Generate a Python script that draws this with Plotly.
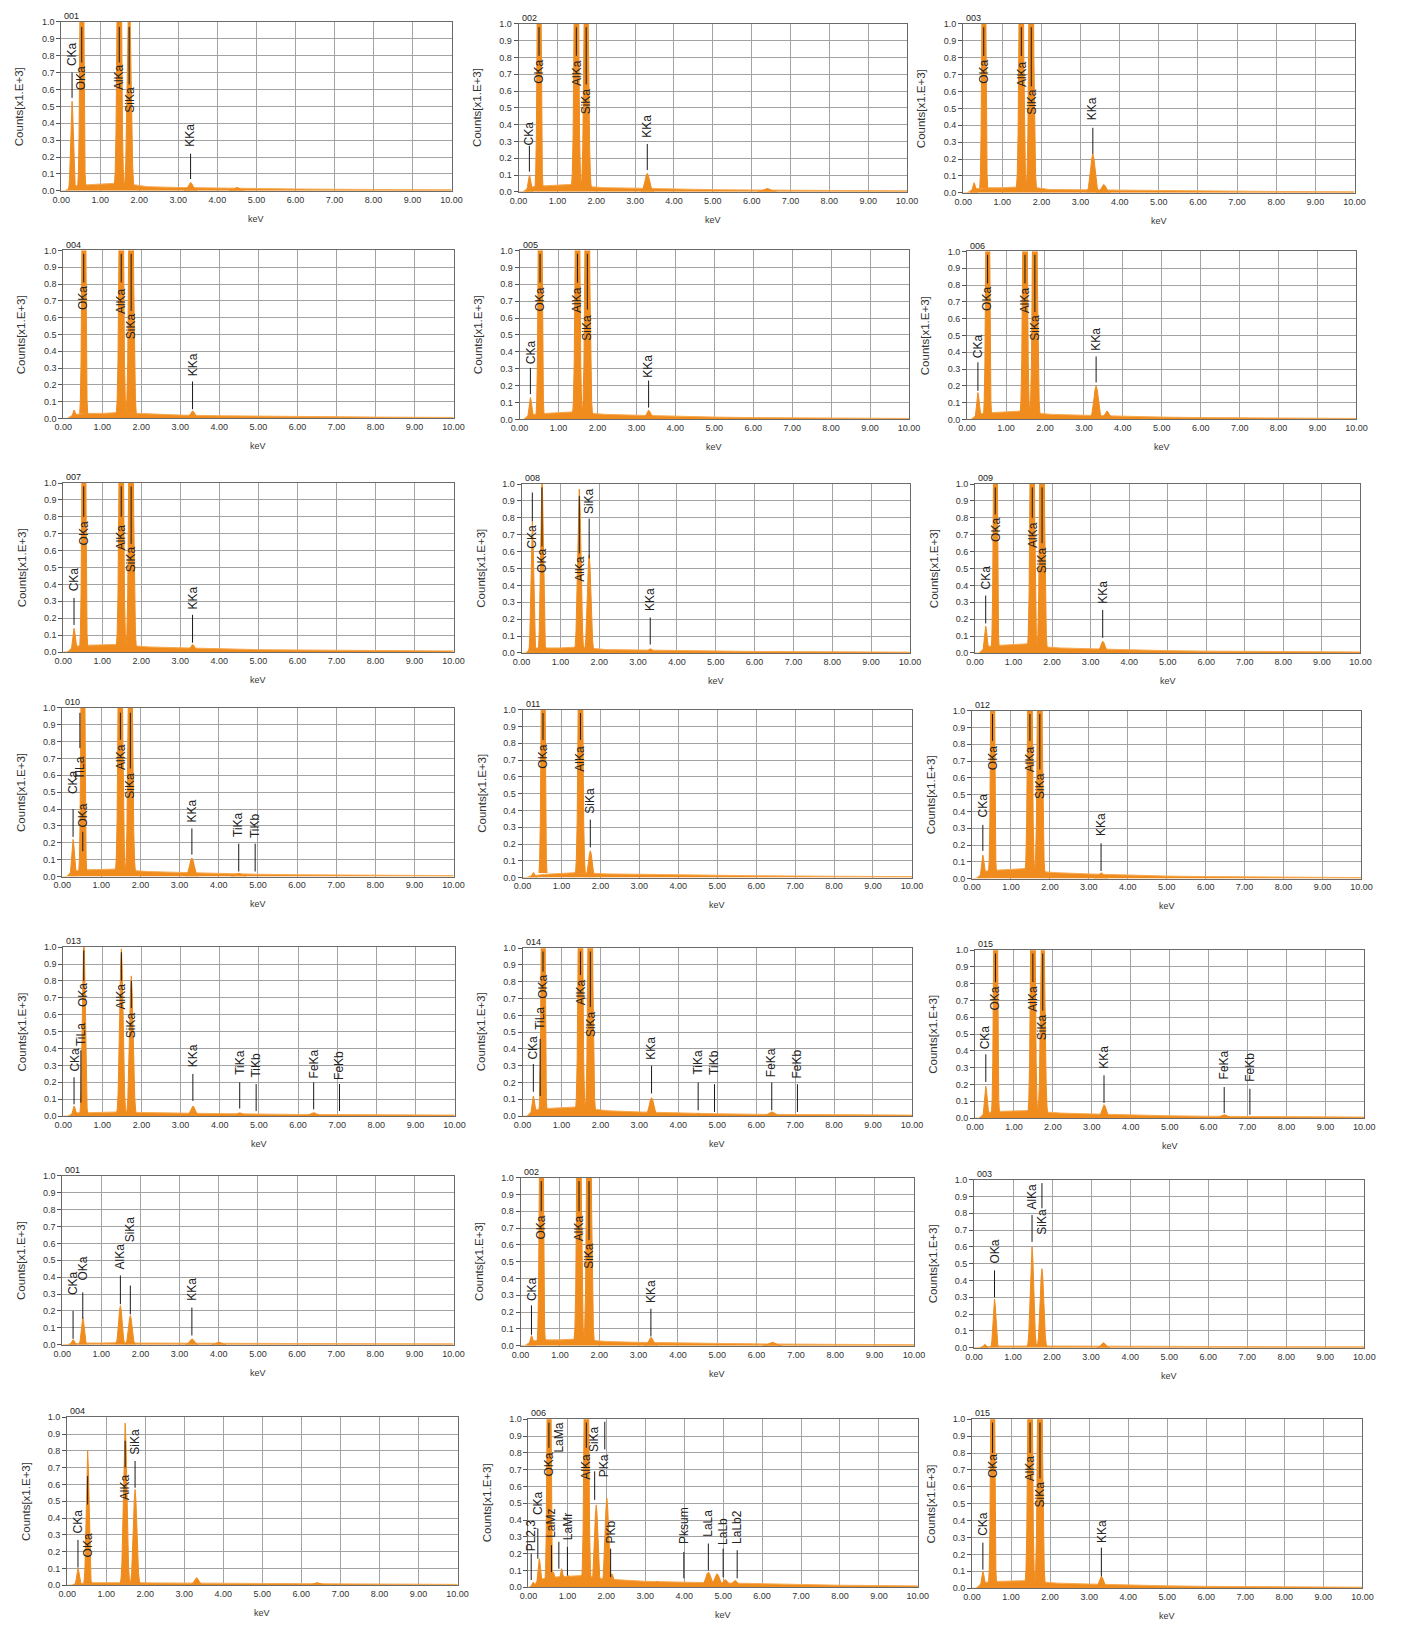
import plotly.graph_objects as go

W, H = 1401, 1628

PANEL_NAMES = ["001", "002", "003", "004", "005", "006", "007", "008", "009", "010",
               "011", "012", "013", "014", "015", "001", "002", "003", "004", "006", "015"]

# shared energy points of the continuum (keV)
BG_KEV = [0.0, 0.1, 0.2, 0.35, 0.6, 1.0, 1.4, 1.9, 2.2, 3.0, 4.0, 5.0, 6.0, 8.0, 10.0]
BACKGROUND = [
    [0, 0, 0.015, 0.03, 0.035, 0.04, 0.045, 0.035, 0.025, 0.02, 0.016, 0.013, 0.011, 0.008, 0.006],
    [0, 0, 0.015, 0.03, 0.035, 0.04, 0.045, 0.03, 0.025, 0.022, 0.016, 0.013, 0.011, 0.008, 0.006],
    [0, 0, 0.015, 0.025, 0.03, 0.03, 0.035, 0.03, 0.02, 0.018, 0.015, 0.012, 0.01, 0.008, 0.006],
    [0, 0, 0.015, 0.025, 0.03, 0.03, 0.035, 0.03, 0.025, 0.02, 0.016, 0.013, 0.011, 0.008, 0.006],
    [0, 0, 0.02, 0.03, 0.035, 0.04, 0.045, 0.035, 0.03, 0.025, 0.018, 0.014, 0.011, 0.008, 0.006],
    [0, 0, 0.02, 0.035, 0.04, 0.045, 0.05, 0.035, 0.03, 0.025, 0.018, 0.014, 0.011, 0.008, 0.006],
    [0, 0, 0.02, 0.035, 0.04, 0.042, 0.045, 0.035, 0.03, 0.025, 0.018, 0.014, 0.012, 0.009, 0.006],
    [0, 0, 0.02, 0.03, 0.03, 0.03, 0.035, 0.025, 0.02, 0.018, 0.014, 0.011, 0.009, 0.007, 0.005],
    [0, 0, 0.02, 0.04, 0.045, 0.05, 0.055, 0.035, 0.03, 0.025, 0.018, 0.014, 0.011, 0.008, 0.006],
    [0, 0, 0.02, 0.035, 0.04, 0.042, 0.045, 0.035, 0.03, 0.025, 0.018, 0.014, 0.011, 0.008, 0.006],
    [0, 0, 0.01, 0.015, 0.02, 0.025, 0.03, 0.025, 0.022, 0.02, 0.016, 0.013, 0.011, 0.008, 0.006],
    [0, 0, 0.02, 0.045, 0.05, 0.055, 0.06, 0.04, 0.035, 0.028, 0.02, 0.015, 0.012, 0.009, 0.006],
    [0, 0, 0.01, 0.02, 0.02, 0.022, 0.025, 0.022, 0.02, 0.018, 0.015, 0.012, 0.01, 0.008, 0.006],
    [0, 0, 0.02, 0.04, 0.045, 0.05, 0.055, 0.04, 0.032, 0.025, 0.018, 0.014, 0.011, 0.008, 0.006],
    [0, 0, 0.02, 0.035, 0.04, 0.042, 0.045, 0.035, 0.03, 0.025, 0.018, 0.014, 0.011, 0.008, 0.006],
    [0, 0, 0.005, 0.008, 0.01, 0.01, 0.012, 0.01, 0.01, 0.01, 0.009, 0.008, 0.007, 0.006, 0.005],
    [0, 0, 0.015, 0.03, 0.035, 0.035, 0.04, 0.03, 0.025, 0.02, 0.016, 0.013, 0.011, 0.008, 0.006],
    [0, 0, 0.005, 0.008, 0.01, 0.01, 0.012, 0.01, 0.01, 0.01, 0.009, 0.008, 0.007, 0.006, 0.005],
    [0, 0, 0.008, 0.012, 0.015, 0.015, 0.017, 0.015, 0.014, 0.013, 0.011, 0.01, 0.008, 0.007, 0.005],
    [0, 0, 0.03, 0.05, 0.06, 0.065, 0.07, 0.05, 0.045, 0.035, 0.03, 0.025, 0.018, 0.012, 0.008],
    [0, 0, 0.02, 0.035, 0.04, 0.042, 0.045, 0.035, 0.03, 0.025, 0.018, 0.014, 0.011, 0.008, 0.006],
]

# peaks: (energy keV, counts x1e3); values above 1.0 are off-scale (saturated)
PEAKS = [
    [(0.277, 0.53), (0.525, 2.5), (1.486, 2.5), (1.74, 1.2), (3.313, 0.05), (4.5, 0.02)],
    [(0.277, 0.10), (0.525, 2.5), (1.486, 2.5), (1.74, 2.0), (3.313, 0.11), (6.4, 0.02)],
    [(0.277, 0.06), (0.525, 2.5), (1.486, 2.5), (1.74, 2.5), (3.313, 0.23), (3.59, 0.05)],
    [(0.277, 0.05), (0.525, 2.5), (1.486, 2.5), (1.74, 2.5), (3.313, 0.045)],
    [(0.277, 0.13), (0.525, 2.5), (1.486, 2.5), (1.74, 2.5), (3.313, 0.055)],
    [(0.277, 0.16), (0.525, 2.5), (1.486, 2.5), (1.74, 2.5), (3.313, 0.20), (3.59, 0.05)],
    [(0.277, 0.14), (0.525, 2.5), (1.486, 2.5), (1.74, 2.5), (3.313, 0.045)],
    [(0.277, 0.78), (0.525, 1.05), (1.486, 0.97), (1.74, 0.58), (3.313, 0.025)],
    [(0.277, 0.16), (0.525, 2.5), (1.486, 2.5), (1.74, 2.5), (3.313, 0.07)],
    [(0.277, 0.22), (0.525, 2.5), (1.486, 2.5), (1.74, 2.0), (3.313, 0.11), (4.51, 0.02)],
    [(0.277, 0.03), (0.525, 2.5), (1.486, 2.5), (1.74, 0.16)],
    [(0.277, 0.14), (0.525, 2.5), (1.486, 2.5), (1.74, 2.5), (3.313, 0.035)],
    [(0.277, 0.06), (0.525, 1.1), (1.486, 0.99), (1.74, 0.83), (3.313, 0.06), (4.51, 0.02), (6.4, 0.02)],
    [(0.277, 0.12), (0.525, 2.5), (1.486, 2.5), (1.74, 2.5), (3.313, 0.11), (4.51, 0.015), (6.4, 0.025)],
    [(0.277, 0.19), (0.525, 2.5), (1.486, 2.5), (1.74, 1.5), (3.313, 0.08), (6.4, 0.02)],
    [(0.277, 0.03), (0.525, 0.163), (1.486, 0.232), (1.74, 0.173), (3.313, 0.035), (4.0, 0.015)],
    [(0.277, 0.06), (0.525, 2.5), (1.486, 2.5), (1.74, 2.5), (3.313, 0.05), (6.4, 0.02)],
    [(0.277, 0.02), (0.525, 0.29), (1.486, 0.60), (1.74, 0.47), (3.313, 0.03)],
    [(0.277, 0.10), (0.525, 0.80), (1.486, 0.965), (1.74, 0.57), (3.313, 0.045), (6.4, 0.015)],
    [(0.12, 0.03), (0.277, 0.17), (0.525, 2.5), (0.64, 0.09), (0.85, 0.11), (1.02, 0.07),
     (1.486, 2.5), (1.74, 0.49), (2.013, 0.53), (2.14, 0.08), (3.3, 0.035), (4.62, 0.09),
     (4.84, 0.08), (5.05, 0.045), (5.3, 0.04)],
    [(0.277, 0.10), (0.525, 2.5), (1.486, 2.5), (1.74, 2.5), (3.313, 0.07)],
]

# peak labels: (text, energy keV, marker low, marker high, text centre)
LABELS = [
    [("CKa", 0.277, 0.55, 0.70, 0.81), ("OKa", 0.525, 0.76, 0.97, 0.665), ("AlKa", 1.486, 0.76, 0.97, 0.675),
     ("SiKa", 1.74, 0.63, 0.97, 0.54), ("KKa", 3.313, 0.07, 0.22, 0.33)],
    [("CKa", 0.277, 0.12, 0.275, 0.35), ("OKa", 0.525, 0.81, 0.98, 0.715), ("AlKa", 1.486, 0.81, 0.98, 0.71),
     ("SiKa", 1.74, 0.64, 0.98, 0.54), ("KKa", 3.313, 0.13, 0.285, 0.39)],
    [("OKa", 0.525, 0.81, 0.98, 0.715), ("AlKa", 1.486, 0.81, 0.98, 0.705),
     ("SiKa", 1.74, 0.63, 0.98, 0.54), ("KKa", 3.313, 0.23, 0.385, 0.50)],
    [("OKa", 0.525, 0.81, 0.98, 0.715), ("AlKa", 1.486, 0.81, 0.98, 0.70),
     ("SiKa", 1.74, 0.64, 0.98, 0.55), ("KKa", 3.313, 0.055, 0.22, 0.32)],
    [("CKa", 0.277, 0.15, 0.305, 0.40), ("OKa", 0.525, 0.81, 0.98, 0.71), ("AlKa", 1.486, 0.81, 0.98, 0.71),
     ("SiKa", 1.74, 0.65, 0.98, 0.545), ("KKa", 3.313, 0.07, 0.23, 0.315)],
    [("CKa", 0.277, 0.17, 0.34, 0.435), ("OKa", 0.525, 0.81, 0.98, 0.715), ("AlKa", 1.486, 0.81, 0.98, 0.71),
     ("SiKa", 1.74, 0.64, 0.98, 0.545), ("KKa", 3.313, 0.22, 0.375, 0.475)],
    [("CKa", 0.277, 0.16, 0.32, 0.43), ("OKa", 0.525, 0.80, 0.98, 0.70), ("AlKa", 1.486, 0.80, 0.98, 0.68),
     ("SiKa", 1.74, 0.64, 0.98, 0.55), ("KKa", 3.313, 0.055, 0.22, 0.32)],
    [("CKa", 0.277, 0.78, 0.95, 0.69), ("OKa", 0.525, 0.63, 0.98, 0.545), ("AlKa", 1.486, 0.59, 0.93, 0.50),
     ("SiKa", 1.74, 0.56, 0.795, 0.90), ("KKa", 3.313, 0.05, 0.21, 0.315)],
    [("CKa", 0.277, 0.175, 0.34, 0.445), ("OKa", 0.525, 0.82, 0.98, 0.73), ("AlKa", 1.486, 0.80, 0.98, 0.70),
     ("SiKa", 1.74, 0.65, 0.98, 0.55), ("KKa", 3.313, 0.09, 0.255, 0.36)],
    [("CKa", 0.277, 0.235, 0.40, 0.56), ("TiLa", 0.452, 0.76, 0.97, 0.645), ("OKa", 0.525, 0.15, 0.265, 0.36),
     ("AlKa", 1.486, 0.81, 0.97, 0.71), ("SiKa", 1.74, 0.64, 0.97, 0.54), ("KKa", 3.313, 0.13, 0.285, 0.39),
     ("TiKa", 4.51, 0.03, 0.195, 0.31), ("TiKb", 4.93, 0.03, 0.195, 0.30)],
    [("OKa", 0.525, 0.82, 0.98, 0.72), ("AlKa", 1.486, 0.82, 0.98, 0.71), ("SiKa", 1.74, 0.18, 0.345, 0.46)],
    [("CKa", 0.277, 0.165, 0.32, 0.435), ("OKa", 0.525, 0.82, 0.98, 0.72), ("AlKa", 1.486, 0.82, 0.98, 0.71),
     ("SiKa", 1.74, 0.65, 0.98, 0.55), ("KKa", 3.313, 0.045, 0.21, 0.32)],
    [("CKa", 0.277, 0.07, 0.23, 0.335), ("TiLa", 0.452, 0.08, 0.39, 0.485), ("OKa", 0.525, 0.80, 0.98, 0.715),
     ("AlKa", 1.486, 0.80, 0.97, 0.71), ("SiKa", 1.74, 0.64, 0.80, 0.54), ("KKa", 3.313, 0.09, 0.25, 0.36),
     ("TiKa", 4.51, 0.045, 0.20, 0.32), ("TiKb", 4.93, 0.03, 0.19, 0.30), ("FeKa", 6.40, 0.04, 0.20, 0.31),
     ("FeKb", 7.06, 0.03, 0.19, 0.30)],
    [("CKa", 0.277, 0.145, 0.31, 0.41), ("TiLa", 0.452, 0.12, 0.46, 0.58), ("OKa", 0.525, 0.86, 0.98, 0.77),
     ("AlKa", 1.486, 0.84, 0.98, 0.74), ("SiKa", 1.74, 0.65, 0.98, 0.55), ("KKa", 3.313, 0.135, 0.30, 0.405),
     ("TiKa", 4.51, 0.035, 0.20, 0.32), ("TiKb", 4.93, 0.025, 0.19, 0.32), ("FeKa", 6.40, 0.035, 0.20, 0.32),
     ("FeKb", 7.06, 0.025, 0.19, 0.31)],
    [("CKa", 0.277, 0.215, 0.38, 0.48), ("OKa", 0.525, 0.81, 0.98, 0.715), ("AlKa", 1.486, 0.81, 0.98, 0.71),
     ("SiKa", 1.74, 0.64, 0.98, 0.54), ("KKa", 3.313, 0.09, 0.255, 0.36), ("FeKa", 6.40, 0.03, 0.185, 0.315),
     ("FeKb", 7.06, 0.02, 0.175, 0.305)],
    [("CKa", 0.277, 0.035, 0.20, 0.365), ("OKa", 0.525, 0.155, 0.31, 0.45), ("AlKa", 1.486, 0.24, 0.41, 0.525),
     ("SiKa", 1.74, 0.18, 0.35, 0.685), ("KKa", 3.313, 0.055, 0.22, 0.33)],
    [("CKa", 0.277, 0.065, 0.24, 0.34), ("OKa", 0.525, 0.80, 0.98, 0.705), ("AlKa", 1.486, 0.80, 0.98, 0.70),
     ("SiKa", 1.74, 0.63, 0.98, 0.535), ("KKa", 3.313, 0.055, 0.22, 0.325)],
    [("OKa", 0.525, 0.30, 0.46, 0.57), ("AlKa", 1.486, 0.63, 0.79, 0.90), ("SiKa", 1.74, 0.83, 0.98, 0.75)],
    [("CKa", 0.277, 0.105, 0.27, 0.38), ("OKa", 0.525, 0.48, 0.65, 0.235), ("AlKa", 1.486, 0.70, 0.86, 0.585),
     ("SiKa", 1.74, 0.58, 0.74, 0.855)],
    [("PL2,3", 0.07, 0.043, 0.20, 0.31), ("CKa", 0.24, 0.17, 0.35, 0.50), ("OKa", 0.525, 0.83, 0.98, 0.73),
     ("LaMz", 0.59, 0.09, 0.25, 0.38), ("LaMa", 0.78, 0.11, 0.27, 0.89), ("LaMr", 1.0, 0.07, 0.24, 0.36),
     ("AlKa", 1.486, 0.83, 0.98, 0.72), ("SiKa", 1.70, 0.52, 0.69, 0.88), ("PKa", 1.96, 0.82, 0.985, 0.725),
     ("PKb", 2.11, 0.06, 0.23, 0.33), ("Pksum", 3.99, 0.053, 0.21, 0.37), ("LaLa", 4.62, 0.10, 0.26, 0.38),
     ("LaLb", 5.0, 0.06, 0.23, 0.33), ("LaLb2", 5.36, 0.053, 0.22, 0.36)],
    [("CKa", 0.277, 0.11, 0.27, 0.38), ("OKa", 0.525, 0.80, 0.98, 0.72), ("AlKa", 1.486, 0.80, 0.98, 0.71),
     ("SiKa", 1.74, 0.65, 0.98, 0.555), ("KKa", 3.313, 0.07, 0.24, 0.335)],
]

X_TICKS = [0, 1, 2, 3, 4, 5, 6, 7, 8, 9, 10]
Y_TICKS = [0.0, 0.1, 0.2, 0.3, 0.4, 0.5, 0.6, 0.7, 0.8, 0.9, 1.0]

# ---------- styling / layout (pixel boxes of each plot area: left, right, top, bottom) ----------
BOXES = [
    (53, 449, 17, 187), (517, 911, 19, 188), (968, 1365, 19, 189),
    (55, 451, 247, 416), (518, 913, 247, 417), (972, 1367, 248, 417),
    (55, 451, 481, 651), (520, 914, 482, 652), (980, 1371, 482, 652),
    (54, 451, 707, 877), (521, 916, 709, 878), (977, 1372, 710, 879),
    (55, 452, 948, 1118), (521, 916, 949, 1118), (980, 1375, 951, 1120),
    (54, 451, 1178, 1348), (519, 918, 1180, 1349), (979, 1375, 1182, 1351),
    (59, 455, 1421, 1590), (527, 922, 1423, 1592), (977, 1373, 1423, 1593),
]
# peak line-shape template (offsets in sigma, fraction of height)
SHAPE_OFF = [-3, -2.5, -2, -1.5, -1, -0.5, 0, 0.5, 1, 1.5, 2, 2.5, 3]
SHAPE_FRAC = [0.011, 0.044, 0.135, 0.325, 0.607, 0.882, 1.0, 0.882, 0.607, 0.325, 0.135, 0.044, 0.011]

FILL = "#F08C1E"
EDGE = "#F6AA52"
FONT = "Liberation Sans, Arial, sans-serif"

fig = go.Figure()
layout = dict(width=W, height=H, margin=dict(l=0, r=0, t=0, b=0), autosize=False,
              paper_bgcolor="white", plot_bgcolor="white", showlegend=False,
              font=dict(family=FONT, color="#333"))
annotations = []
shapes = []

for i in range(21):
    n = i + 1
    xs = "x" if n == 1 else f"x{n}"
    ys = "y" if n == 1 else f"y{n}"
    l, r, t, b = BOXES[i]
    layout["xaxis" if n == 1 else f"xaxis{n}"] = dict(
        domain=[l / W, r / W], anchor=ys, range=[0, 10], tickvals=X_TICKS,
        ticktext=[f"{v:.2f}" for v in X_TICKS], showgrid=True, gridcolor="#a3a3a3", gridwidth=1,
        showline=True, mirror=True, linecolor="#6a6a6a", linewidth=1, zeroline=False,
        ticks="", tickfont=dict(size=9, color="#333"), fixedrange=True)
    layout["yaxis" if n == 1 else f"yaxis{n}"] = dict(
        domain=[1 - b / H, 1 - t / H], anchor=xs, range=[0, 1.0], tickvals=Y_TICKS,
        ticktext=[f"{v:.1f}" for v in Y_TICKS], showgrid=True, gridcolor="#a3a3a3", gridwidth=1,
        showline=True, mirror=True, linecolor="#6a6a6a", linewidth=1, zeroline=False,
        ticks="outside", ticklen=4, tickcolor="#555", tickfont=dict(size=9, color="#333"),
        fixedrange=True)

    # continuum
    fig.add_trace(go.Scatter(x=BG_KEV, y=BACKGROUND[i], xaxis=xs, yaxis=ys, mode="lines",
                             fill="tozeroy", fillcolor=FILL, line=dict(color=EDGE, width=1),
                             hoverinfo="skip"))
    # peaks
    px, py = [], []
    for e, h in PEAKS[i]:
        sig = 0.030 + 0.008 * e
        for o, f in zip(SHAPE_OFF, SHAPE_FRAC):
            px.append(e + o * sig)
            py.append(h * f)
        px.append(None)
        py.append(None)
    fig.add_trace(go.Scatter(x=px, y=py, xaxis=xs, yaxis=ys, mode="lines", fill="toself",
                             fillcolor=FILL, line=dict(color=FILL, width=1), hoverinfo="skip"))

    # labels
    for txt, e, lo, hi, tc in LABELS[i]:
        shapes.append(dict(type="line", xref=xs, yref=ys, x0=e, x1=e, y0=lo, y1=hi,
                           line=dict(color="#1a1a1a", width=1)))
        annotations.append(dict(x=e, y=tc, xref=xs, yref=ys, text=txt, showarrow=False,
                                textangle=-90, xanchor="center", yanchor="middle",
                                font=dict(size=12, color="#222", family=FONT)))

    # panel name, axis titles
    annotations.append(dict(x=(l + 1) / W, y=1 - (t - 6) / H, xref="paper", yref="paper",
                            text=PANEL_NAMES[i], showarrow=False, xanchor="left", yanchor="middle",
                            font=dict(size=9, color="#222", family=FONT)))
    annotations.append(dict(x=(l - 42) / W, y=1 - (t + b) / 2 / H, xref="paper", yref="paper",
                            text="Counts[x1.E+3]", showarrow=False, textangle=-90,
                            xanchor="center", yanchor="middle",
                            font=dict(size=11.5, color="#333", family=FONT)))
    annotations.append(dict(x=(l + r) / 2 / W, y=1 - (b + 28) / H, xref="paper", yref="paper",
                            text="keV", showarrow=False, xanchor="center", yanchor="middle",
                            font=dict(size=9, color="#333", family=FONT)))

layout["annotations"] = annotations
layout["shapes"] = shapes
fig.update_layout(**layout)
fig.write_html("out.html")
